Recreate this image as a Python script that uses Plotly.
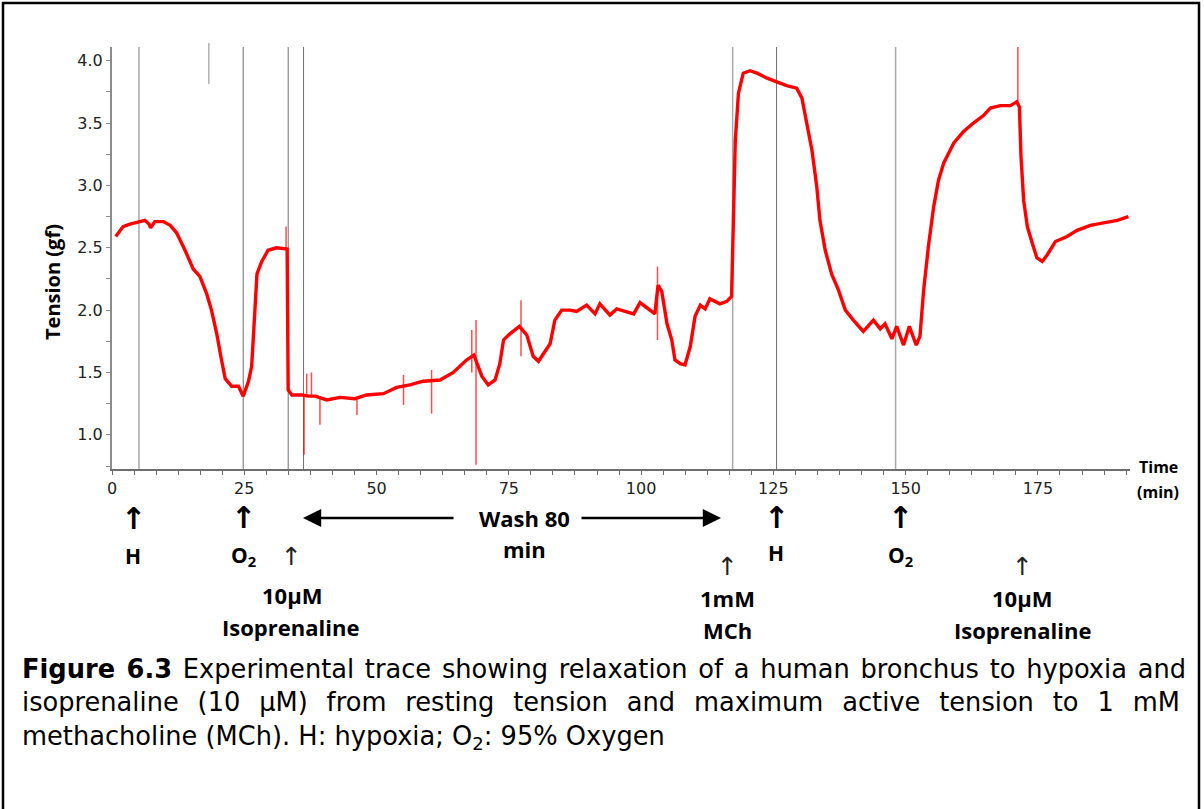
import plotly.graph_objects as go

# ---------------- data ----------------
time_min = [0.7, 2.1, 3.4, 5.1, 6.2, 7.0, 7.3, 8.1, 9.7, 11.0, 12.2, 13.8, 15.35, 16.6,
            17.9, 18.8, 19.8, 20.7, 21.4, 22.6, 23.9, 24.8, 25.8, 26.4, 26.8, 27.4, 28.3,
            29.5, 31.1, 32.7, 33.1, 33.3, 34.0, 35.9, 37.2, 38.4, 40.6, 43.1, 45.9, 48.1,
            51.3, 53.8, 56.3, 58.8, 62.0, 64.5, 67.0, 68.4, 69.9, 71.1, 72.4, 73.3, 74.0,
            75.2, 76.5, 77.0, 78.4, 79.6, 80.6, 81.8, 82.8, 83.7, 85.0, 86.6, 87.8, 89.7,
            91.3, 92.2, 94.1, 95.4, 97.3, 98.6, 99.8, 101.4, 102.6, 103.2, 103.9, 104.9,
            105.8, 106.4, 107.4, 108.3, 109.3, 110.2, 111.2, 112.1, 113.0, 114.9, 116.2,
            117.1, 117.4, 117.8, 118.4, 119.3, 120.6, 121.9, 123.8, 125.6, 127.5, 129.4,
            130.4, 131.3, 132.3, 133.2, 133.8, 134.8, 136.0, 137.3, 138.6, 140.1, 142.0,
            143.9, 145.2, 146.1, 147.4, 148.3, 149.6, 150.7, 152.0, 152.7, 153.4, 154.3,
            155.3, 156.2, 157.2, 159.1, 160.9, 162.8, 164.7, 166.0, 167.9, 169.8, 171.0,
            171.5, 171.8, 172.3, 173.0, 173.9, 174.8, 175.8, 176.7, 178.3, 180.5, 182.4,
            184.9, 187.4, 190.0, 192.1]
tension_gf = [2.59, 2.67, 2.69, 2.71, 2.72, 2.69, 2.66, 2.71, 2.71, 2.68, 2.62, 2.48, 2.33, 2.27,
              2.13, 2.00, 1.81, 1.60, 1.45, 1.39, 1.39, 1.31, 1.43, 1.55, 1.89, 2.29, 2.39,
              2.48, 2.50, 2.49, 2.49, 1.36, 1.32, 1.32, 1.31, 1.31, 1.28, 1.30, 1.29, 1.32,
              1.33, 1.38, 1.40, 1.43, 1.44, 1.50, 1.60, 1.64, 1.47, 1.40, 1.44, 1.57, 1.76,
              1.81, 1.85, 1.87, 1.80, 1.63, 1.59, 1.67, 1.73, 1.92, 2.00, 2.00, 1.99, 2.04,
              1.97, 2.05, 1.96, 2.01, 1.99, 1.97, 2.06, 2.01, 1.97, 2.20, 2.15, 1.89,
              1.76, 1.60, 1.57, 1.56, 1.71, 1.95, 2.04, 2.01, 2.09, 2.05, 2.07,
              2.11, 2.56, 3.36, 3.74, 3.90, 3.92, 3.90, 3.86, 3.83, 3.80, 3.78,
              3.70, 3.50, 3.28, 2.99, 2.72, 2.48, 2.29, 2.16, 2.00, 1.92, 1.83,
              1.92, 1.85, 1.89, 1.77, 1.87, 1.72, 1.87, 1.72, 1.79, 2.16, 2.51,
              2.83, 3.04, 3.18, 3.34, 3.43, 3.50, 3.56, 3.62, 3.64, 3.64, 3.67,
              3.63, 3.23, 2.88, 2.67, 2.54, 2.42, 2.39, 2.44, 2.55, 2.59, 2.64,
              2.68, 2.70, 2.72, 2.75]

# short artefact spikes (time, lowest, highest)
spike_time = [32.9, 36.3, 36.8, 37.7, 39.3, 46.3, 55.1, 60.4, 68.0, 68.8, 77.3, 103.1, 171.2]
spike_low = [2.48, 0.84, 1.30, 1.30, 1.08, 1.16, 1.24, 1.17, 1.50, 0.76, 1.63, 1.76, 3.65]
spike_high = [2.67, 1.32, 1.49, 1.50, 1.30, 1.30, 1.48, 1.52, 1.84, 1.92, 2.08, 2.35, 4.11]

# event markers on the recording (min)
event_dark = [24.8, 33.3, 36.2, 125.6]
event_light = [5.1, 117.3, 148.1]
event_short = [18.3]

x_ticks = [0, 25, 50, 75, 100, 125, 150, 175]
y_ticks = [1.0, 1.5, 2.0, 2.5, 3.0, 3.5, 4.0]

caption_words_1 = ["<b>Figure", "6.3</b>", "Experimental", "trace", "showing", "relaxation", "of",
                   "a", "human", "bronchus", "to", "hypoxia", "and"]
caption_words_2 = ["isoprenaline", "(10", "µM)", "from", "resting", "tension", "and", "maximum",
                   "active", "tension", "to", "1", "mM"]
caption_line_3 = "methacholine (MCh). H: hypoxia; O<sub>2</sub>: 95% Oxygen"

# ---------------- layout helpers (pixel geometry) ----------------
W, H = 1204, 809
L, R, T, B = 112, 1130, 47, 469


def px(x):
    return (x - L) / (R - L)


def py(y):
    return (B - y) / (B - T)


fig = go.Figure()
fig.add_trace(go.Scatter(x=time_min, y=tension_gf, mode="lines",
                         line=dict(color="#ff0000", width=3.4), hoverinfo="skip"))
sx, sy = [], []
for t, lo, hi in zip(spike_time, spike_low, spike_high):
    sx += [t, t, None]
    sy += [lo, hi, None]
fig.add_trace(go.Scatter(x=sx, y=sy, mode="lines",
                         line=dict(color="rgba(255,0,0,0.7)", width=1.5), hoverinfo="skip"))

shapes = []
for t in event_dark:
    shapes.append(dict(type="line", xref="x", yref="paper", x0=t, x1=t, y0=0, y1=1,
                       line=dict(color="#707070", width=1), layer="below"))
for t in event_light:
    shapes.append(dict(type="line", xref="x", yref="paper", x0=t, x1=t, y0=0, y1=1,
                       line=dict(color="#a8a8a8", width=1.5), layer="below"))
for t in event_short:
    shapes.append(dict(type="line", xref="x", yref="paper", x0=t, x1=t, y0=py(84), y1=py(43),
                       line=dict(color="#b0b0b0", width=1.5), layer="below"))
# figure frame
shapes.append(dict(type="rect", xref="paper", yref="paper", x0=px(3), x1=px(1199),
                   y0=py(830), y1=py(3), line=dict(color="black", width=2.5)))

FONT = "Open Sans"
ann = []


def text(s, x, y, size=22, family=FONT, angle=0, color="black", xanchor="center"):
    ann.append(dict(text=s, x=px(x), y=py(y), xref="paper", yref="paper", showarrow=False,
                    xanchor=xanchor, yanchor="middle", textangle=angle, align="left",
                    font=dict(family=family, size=size, color=color)))


text("<b>Tension (gf)</b>", 52, 282, size=20, angle=-90)
text("<b>Time</b>", 1158, 467, size=16)
text("<b>(min)</b>", 1158, 492, size=16)

for x, y in [(133, 518), (243, 517), (776, 517), (900, 517)]:
    text("<b>↑</b>", x, y, size=30, family="DejaVu Sans")
text("<b>H</b>", 133, 556, size=21)
text("<b>O<sub>2</sub></b>", 243, 556, size=21)
text("<b>H</b>", 776, 553, size=21)
text("<b>O<sub>2</sub></b>", 900, 556, size=21)
for x, y in [(291, 556), (727, 566), (1022, 566)]:
    text("↑", x, y, size=25, family="DejaVu Sans", color="#222")
text("<b>10µM</b>", 292, 595)
text("<b>Isoprenaline</b>", 290, 627)
text("<b>1mM</b>", 727, 598)
text("<b>MCh</b>", 727, 630)
text("<b>10µM</b>", 1022, 598)
text("<b>Isoprenaline</b>", 1022, 630)
text("<b>Wash 80</b>", 524, 518, size=22)
text("<b>min</b>", 524, 549, size=22)

# wash arrows
ann.append(dict(x=px(303), y=py(518), xref="paper", yref="paper", ax=152, ay=0, text="",
                showarrow=True, arrowhead=2, arrowsize=1.4, arrowwidth=2.6, arrowcolor="black"))
ann.append(dict(x=px(721), y=py(518), xref="paper", yref="paper", ax=-141, ay=0, text="",
                showarrow=True, arrowhead=2, arrowsize=1.4, arrowwidth=2.6, arrowcolor="black"))

# caption: one paragraph; lines 1-2 are justified in the reference -> evenly widened gaps
line1 = " \u200a".join(caption_words_1)
line2 = " \u00a0\u200a".join(caption_words_2)
caption = "<br>".join([line1, line2, caption_line_3])
text(caption, 20, 704, size=25.7, family="DejaVu Sans", xanchor="left")

axis_font = dict(family="DejaVu Sans", size=16, color="#222")
fig.update_layout(
    width=W, height=H, margin=dict(l=L, r=W - R, t=T, b=H - B, pad=0),
    paper_bgcolor="white", plot_bgcolor="white", showlegend=False,
    shapes=shapes, annotations=ann,
    xaxis=dict(range=[0, 192.4], tickmode="array", tickvals=x_ticks, ticktext=[str(v) for v in x_ticks],
               showline=True, linecolor="#6e6e6e", linewidth=2, ticks="outside", ticklen=4,
               tickcolor="#6e6e6e", showgrid=False, zeroline=False, tickfont=axis_font,
               minor=dict(tickmode="linear", tick0=0, dtick=25 / 6, ticks="outside", ticklen=4,
                          tickcolor="#6e6e6e", showgrid=False)),
    yaxis=dict(range=[0.726, 4.11], tickmode="array", tickvals=y_ticks,
               ticktext=[f"{v:.1f}" for v in y_ticks],
               showline=True, linecolor="#8c8c8c", linewidth=2, ticks="outside", ticklen=4,
               tickcolor="#8c8c8c", showgrid=False, zeroline=False, tickfont=axis_font,
               minor=dict(tickmode="linear", tick0=0, dtick=0.25, ticks="outside", ticklen=4,
                          tickcolor="#8c8c8c", showgrid=False)),
)

fig.write_html("out.html")
